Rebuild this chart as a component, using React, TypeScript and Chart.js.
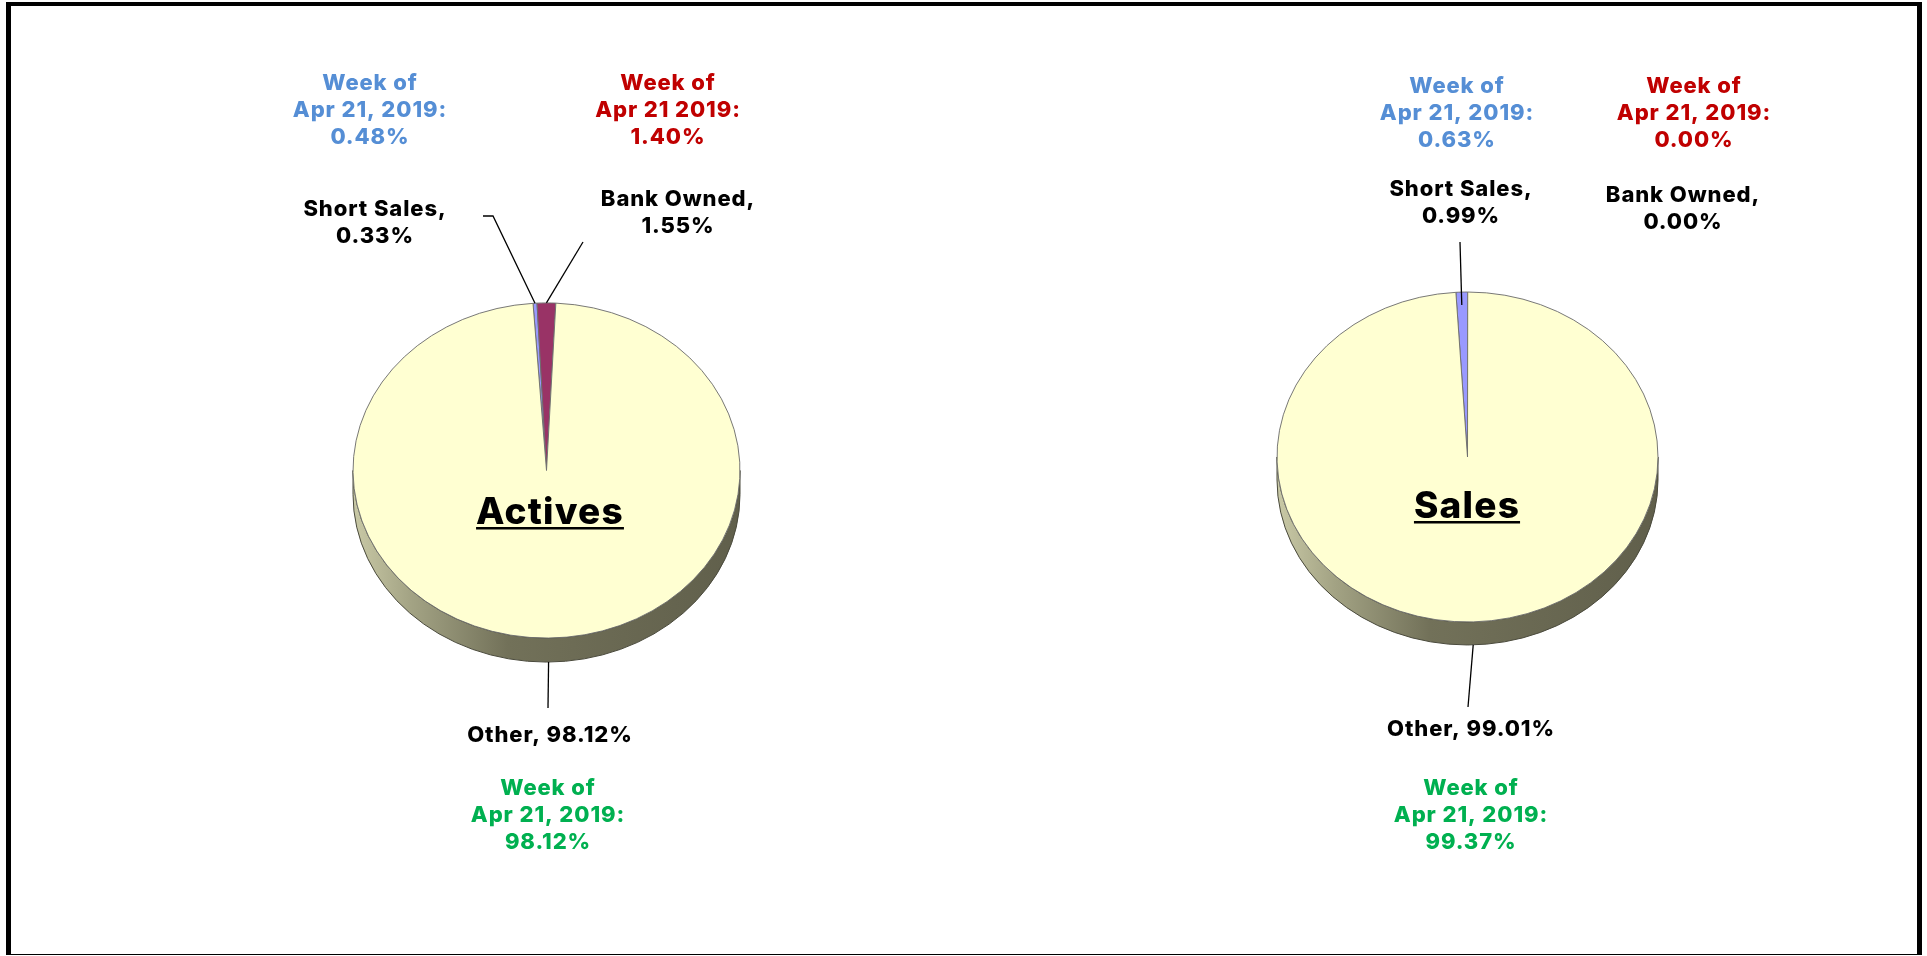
import React, { useEffect, useRef } from 'react';
import { Chart, registerables } from 'chart.js';

Chart.register(...registerables);

// ---------- data ----------
const categories = ['Short Sales', 'Bank Owned', 'Other'];
const activesValues = [0.33, 1.55, 98.12];
const salesValues = [0.99, 0.0, 99.01];
const activesWeekValues = [0.48, 1.4, 98.12];
const salesWeekValues = [0.63, 0.0, 99.37];
const activesWeekDates = ['Apr 21, 2019:', 'Apr 21 2019:', 'Apr 21, 2019:'];
const salesWeekDates = ['Apr 21, 2019:', 'Apr 21, 2019:', 'Apr 21, 2019:'];
const chartTitles = ['Actives', 'Sales'];

// ---------- styles ----------
const sliceColors = ['#9999ff', '#993366', '#ffffd2'];
const weekColors = ['#558ed5', '#c00000', '#00b050'];
const FONT = 'Inter, "Open Sans", sans-serif';

type Pt = [number, number];
interface Layout {
  right: number;
  left: number;
  bottom: number;
  radius: number;
  ratio: number;
  depth: number;
  rotation: number;
  title: Pt;
  week: Pt[];
  label: Pt[];
  leaderFrom: (Pt[] | null)[];
  leaderInset: number[];
}

const layouts: Layout[] = [
  {
    left: 0,
    right: 834,
    bottom: 15,
    radius: 193.5,
    ratio: 0.866,
    depth: 24,
    rotation: -4,
    title: [550, 513],
    week: [
      [370, 83],
      [668, 83],
      [548, 788],
    ],
    label: [
      [375, 209],
      [678, 199],
      [550, 735],
    ],
    leaderFrom: [
      [
        [483, 216],
        [493, 216],
      ],
      [[583, 242]],
      [[548, 708]],
    ],
    leaderInset: [0, 0, 0],
  },
  {
    left: 1008,
    right: 0,
    bottom: 42,
    radius: 190.5,
    ratio: 0.866,
    depth: 23,
    rotation: -3.5,
    title: [1467, 507],
    week: [
      [1457, 86],
      [1694, 86],
      [1471, 788],
    ],
    label: [
      [1461, 189],
      [1683, 195],
      [1471, 729],
    ],
    leaderFrom: [[[1460, 242]], null, [[1468, 707]]],
    leaderInset: [13, 0, 0],
  },
];

function makePlugin(idx: number, values: number[], weekValues: number[], weekDates: string[]) {
  const L = layouts[idx];
  return {
    id: 'pie3d' + idx,
    beforeDatasetsDraw(chart: any) {
      const ctx = chart.ctx as CanvasRenderingContext2D;
      const arc = chart.getDatasetMeta(0).data[0] as any;
      const cx = arc.x;
      const cy = arc.y;
      const r = L.radius;
      const ry = r * L.ratio;
      const d = L.depth;
      // side of the 3D disc
      ctx.save();
      const g = ctx.createLinearGradient(cx - r, 0, cx + r, 0);
      g.addColorStop(0, '#c9c9a6');
      g.addColorStop(0.15, '#a3a384');
      g.addColorStop(0.4, '#727159');
      g.addColorStop(1, '#605f4b');
      ctx.beginPath();
      ctx.ellipse(cx, cy + d, r, ry, 0, 0, Math.PI, false);
      ctx.lineTo(cx - r, cy);
      ctx.ellipse(cx, cy, r, ry, 0, Math.PI, 0, true);
      ctx.closePath();
      ctx.fillStyle = g;
      ctx.fill();
      ctx.lineWidth = 1;
      ctx.strokeStyle = '#4a4a3c';
      ctx.stroke();
      ctx.restore();
      // squash the top face
      ctx.save();
      ctx.translate(cx, cy);
      ctx.scale(1, L.ratio);
      ctx.translate(-cx, -cy);
    },
    afterDatasetsDraw(chart: any) {
      chart.ctx.restore();
    },
    afterDraw(chart: any) {
      const ctx = chart.ctx as CanvasRenderingContext2D;
      const arcs = chart.getDatasetMeta(0).data as any[];
      const cx = arcs[0].x;
      const cy = arcs[0].y;
      const r = L.radius;
      const ry = r * L.ratio;
      ctx.save();
      // leader lines
      ctx.strokeStyle = '#000';
      ctx.lineWidth = 1.3;
      arcs.forEach((a, i) => {
        const from = L.leaderFrom[i];
        if (!from || values[i] <= 0) return;
        const mid = (a.startAngle + a.endAngle) / 2;
        const sin = Math.sin(mid);
        const px = cx + r * Math.cos(mid);
        let py = cy + ry * sin;
        if (sin > 0) py += L.depth;
        py += L.leaderInset[i];
        ctx.beginPath();
        ctx.moveTo(from[0][0], from[0][1]);
        for (let k = 1; k < from.length; k++) ctx.lineTo(from[k][0], from[k][1]);
        ctx.lineTo(px, py);
        ctx.stroke();
      });
      ctx.textAlign = 'center';
      ctx.textBaseline = 'middle';
      (ctx as any).letterSpacing = '0.9px';
      const LH = 27;
      // category labels
      ctx.font = `800 22px ${FONT}`;
      ctx.fillStyle = '#000';
      categories.forEach((c, i) => {
        const [x, y] = L.label[i];
        const v = values[i].toFixed(2) + '%';
        if (i === 2) {
          ctx.fillText(`${c}, ${v}`, x, y);
        } else {
          ctx.fillText(`${c},`, x, y);
          ctx.fillText(v, x, y + LH);
        }
      });
      // week labels
      categories.forEach((c, i) => {
        const [x, y] = L.week[i];
        ctx.fillStyle = weekColors[i];
        ctx.fillText('Week of', x, y);
        ctx.fillText(weekDates[i], x, y + LH);
        ctx.fillText(weekValues[i].toFixed(2) + '%', x, y + 2 * LH);
      });
      // title
      (ctx as any).letterSpacing = '1.2px';
      ctx.font = `800 37px ${FONT}`;
      ctx.fillStyle = '#000';
      const [tx, ty] = L.title;
      const t = chartTitles[idx];
      ctx.fillText(t, tx, ty);
      const w = ctx.measureText(t).width;
      ctx.fillRect(tx - w / 2, ty + 14, w, 2.5);
      ctx.restore();
    },
  };
}

function PieCanvas({ idx, values, weekValues, weekDates }: { idx: number; values: number[]; weekValues: number[]; weekDates: string[] }) {
  const ref = useRef<HTMLCanvasElement | null>(null);
  useEffect(() => {
    if (!ref.current) return;
    const L = layouts[idx];
    const chart = new Chart(ref.current, {
      type: 'pie',
      data: {
        labels: categories,
        datasets: [
          {
            data: values,
            backgroundColor: sliceColors,
            borderColor: '#6e6e6e',
            borderWidth: values.map((v) => (v > 0 ? 1 : 0)),
            radius: L.radius,
            rotation: L.rotation,
          } as any,
        ],
      },
      options: {
        animation: false,
        responsive: false,
        events: [],
        layout: { padding: { left: L.left, right: L.right, top: 0, bottom: L.bottom } },
        plugins: { legend: { display: false }, tooltip: { enabled: false } },
      },
      plugins: [makePlugin(idx, values, weekValues, weekDates)],
    });
    return () => chart.destroy();
  }, []);
  return (
    <canvas
      ref={ref}
      width={1927}
      height={956}
      style={{ position: 'absolute', left: 0, top: 0, width: 1927, height: 956 }}
    />
  );
}

export default function App() {
  return (
    <div style={{ position: 'absolute', left: 0, top: 0, width: 1927, height: 956, background: '#fff', overflow: 'hidden' }}>
      <div
        style={{
          position: 'absolute',
          left: 6,
          top: 2,
          width: 1906,
          height: 948,
          borderLeft: '5px solid #000',
          borderTop: '4px solid #000',
          borderRight: '5px solid #000',
          borderBottom: '1px solid #000',
        }}
      />
      <PieCanvas idx={0} values={activesValues} weekValues={activesWeekValues} weekDates={activesWeekDates} />
      <PieCanvas idx={1} values={salesValues} weekValues={salesWeekValues} weekDates={salesWeekDates} />
    </div>
  );
}
